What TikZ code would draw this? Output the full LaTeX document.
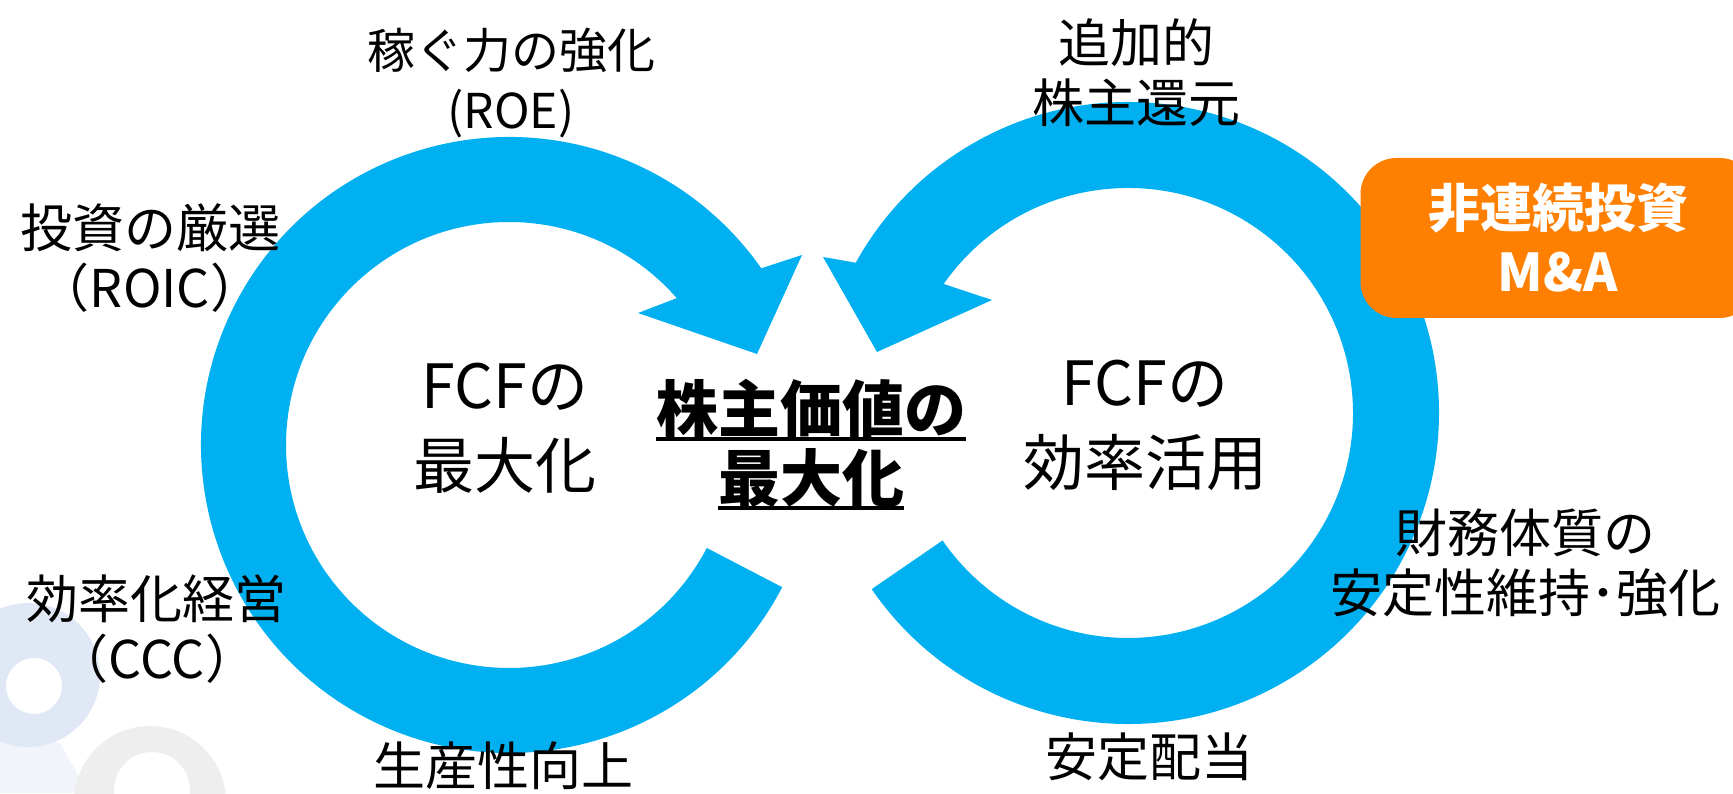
\documentclass[tikz,border=0pt]{standalone}
\usepackage{fontspec}
\setmainfont{Noto Sans CJK JP}
\usepackage{tikz}
\definecolor{ringblue}{RGB}{0,176,240}
\definecolor{maorange}{RGB}{255,128,0}
\definecolor{markblue}{RGB}{224,232,245}
\definecolor{markpale}{RGB}{241,244,250}
\definecolor{markgrey}{RGB}{238,238,238}
\tikzstyle{every node}=[inner sep=0pt,align=center]
\tikzstyle{lbl}=[font=\fontsize{52}{60}\selectfont]
\tikzstyle{fcf}=[font=\fontsize{61}{80}\selectfont]
\tikzstyle{valtext}=[font=\fontsize{62}{70}\selectfont\bfseries]
\tikzstyle{mabox}=[fill=maorange,rounded corners=36pt,text=white,minimum width=395pt,minimum height=160pt,font=\fontsize{52}{64}\selectfont\bfseries]

\begin{document}
\begin{tikzpicture}[x=1pt,y=1pt,node distance=69pt]
\useasboundingbox (0,0) rectangle (1733,793);
\coordinate (lc) at (509,348);
\coordinate (rc) at (1128,380);

\fill[markpale] (0,0) -- (0,60) -- (60,50) -- (88,0) -- cycle;
\fill[markblue,even odd rule] (28,118) circle[radius=72pt] (34,107) circle[radius=28pt];
\fill[markgrey,even odd rule] (150,-9) circle[radius=76pt] (152,3) circle[radius=38pt];

\fill[ringblue] ([shift={(-27.5:308pt)}]lc) arc[start angle=-27.5,end angle=-325,radius=308pt]
	-- (802,538) -- (757,439) -- (638,480)
	-- ([shift={(-318.8:223pt)}]lc) arc[start angle=-318.8,end angle=-27.5,radius=223pt] -- cycle;
\fill[ringblue] ([shift={(214.5:311pt)}]rc) arc[start angle=214.5,end angle=511.1,radius=311pt]
	-- (823,536) -- (877,441) -- (992,493)
	-- ([shift={(505:225pt)}]rc) arc[start angle=505,end angle=214.5,radius=225pt] -- cycle;

\node(roe)[lbl,font=\fontsize{48}{60}\selectfont] at (511,710) {稼ぐ力の強化\\(ROE)};
\node(roic)[lbl] at (150,535) {投資の厳選\\（ROIC）};
\node(ccc)[lbl] at (157,164) {効率化経営\\（CCC）};
\node(prod)[lbl] at (503,27) {生産性向上};
\node(fcfmax)[fcf] at (505,365) {FCFの\\最大化};

\node(val1)[valtext] at (811,384) {株主価値の};
\node(val2)[valtext,below of=val1] {最大化};
\draw[line width=4pt] (val1.south west) -- (val1.south east);
\draw[line width=4pt] (val2.south west) -- (val2.south east);

\node(fcfuse)[fcf] at (1145,368) {FCFの\\効率活用};
\node(add)[lbl] at (1136,720) {追加的\\株主還元};
\node(ma)[mabox] at (1558,555) {非連続投資\\M\&A};
\node(stab)[lbl] at (1525,230) {財務体質の\\安定性維持･強化};
\node(div)[lbl] at (1149,36) {安定配当};
\end{tikzpicture}
\end{document}
